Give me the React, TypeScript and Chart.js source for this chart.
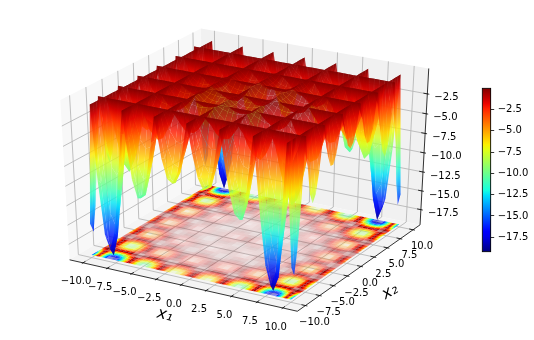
import { useEffect, useRef } from "react";
import { Chart, registerables } from "chart.js";

Chart.register(...registerables);

// one quadrant of the surface (it is mirror-symmetric in x1 and x2); the grid lines sit on the zero ridges
const x1Grid = [0, 0.5, 1, 1.5, 2, 2.5, 3.14, 3.5, 4, 4.5, 5, 5.5, 6, 6.28, 6.5, 7, 7.5, 8, 8.5, 9, 9.42, 10];
const x2Grid = [0, 0.5, 1, 1.57, 2, 2.5, 3, 3.5, 4, 4.71, 5, 5.5, 6, 6.5, 7, 7.5, 7.85, 8.5, 9, 9.5, 10];
const z00 = [0, -1.11, -1.66, -1.68, -1.31, -0.74, 0, -0.39, -0.99, -1.51, -1.74, -1.5, -0.69, 0, -0.63, -2.25, -3.76, -4.64, -4.39, -2.66, 0, -4.83];
const z05 = [0, -0.91, -1.41, -1.44, -1.13, -0.64, 0, -0.35, -0.88, -1.34, -1.53, -1.32, -0.61, 0, -0.55, -1.98, -3.32, -4.09, -3.87, -2.34, 0, -4.25];
const z10 = [0, -0.49, -0.79, -0.82, -0.65, -0.37, 0, -0.22, -0.56, -0.84, -0.97, -0.83, -0.39, 0, -0.35, -1.24, -2.08, -2.56, -2.41, -1.47, 0, -2.64];
const z15 = [0, 0, 0, 0, 0, 0, 0, 0, 0, 0, 0, 0, 0, 0, 0, 0, 0, 0, 0, 0, 0, 0];
const z20 = [0, -0.28, -0.47, -0.51, -0.42, -0.27, 0, -0.19, -0.48, -0.72, -0.82, -0.7, -0.32, 0, -0.29, -1.02, -1.69, -2.08, -1.98, -1.2, 0, -2.15];
const z25 = [0, -0.46, -0.78, -0.86, -0.79, -0.54, 0, -0.41, -0.99, -1.49, -1.67, -1.43, -0.65, 0, -0.58, -2.07, -3.42, -4.2, -3.95, -2.38, 0, -4.27];
const z30 = [0, -0.5, -0.89, -1.09, -1.04, -0.75, 0, -0.55, -1.36, -1.99, -2.24, -1.89, -0.86, 0, -0.77, -2.71, -4.48, -5.48, -5.12, -3.07, 0, -5.5];
const z35 = [0, -0.51, -0.93, -1.15, -1.12, -0.81, 0, -0.59, -1.42, -2.07, -2.31, -1.94, -0.88, 0, -0.78, -2.74, -4.5, -5.51, -5.12, -3.07, 0, -5.45];
const z40 = [0, -0.41, -0.75, -0.93, -0.9, -0.64, 0, -0.46, -1.1, -1.6, -1.78, -1.48, -0.67, 0, -0.59, -2.06, -3.37, -4.11, -3.81, -2.29, 0, -4.06];
const z45 = [0, 0, 0, 0, 0, 0, 0, 0, 0, 0, 0, 0, 0, 0, 0, 0, 0, 0, 0, 0, 0, 0];
const z50 = [0, -0.25, -0.45, -0.55, -0.53, -0.37, 0, -0.26, -0.61, -0.87, -0.95, -0.79, -0.35, 0, -0.31, -1.06, -1.72, -2.08, -1.93, -1.14, 0, -2];
const z55 = [0, -0.72, -1.3, -1.6, -1.53, -1.07, 0, -0.73, -1.72, -2.45, -2.67, -2.2, -0.97, 0, -0.84, -2.91, -4.72, -5.68, -5.21, -3.1, 0, -5.38];
const z60 = [0, -1.15, -2.07, -2.54, -2.42, -1.68, 0, -1.13, -2.66, -3.77, -4.1, -3.32, -1.47, 0, -1.28, -4.42, -7.07, -8.42, -7.74, -4.59, 0, -7.78];
const z65 = [0, -1.38, -2.47, -3.02, -2.84, -1.97, 0, -1.33, -3.09, -4.35, -4.69, -3.81, -1.69, 0, -1.44, -4.94, -7.97, -9.47, -8.66, -5.08, 0, -8.71];
const z70 = [0, -1.24, -2.22, -2.71, -2.57, -1.77, 0, -1.18, -2.74, -3.83, -4.09, -3.33, -1.47, 0, -1.25, -4.26, -6.82, -8.06, -7.34, -4.32, 0, -7.34];
const z75 = [0, -0.67, -1.2, -1.45, -1.36, -0.95, 0, -0.63, -1.45, -2.02, -2.16, -1.74, -0.76, 0, -0.65, -2.2, -3.49, -4.12, -3.77, -2.17, 0, -3.72];
const z80 = [0, 0, 0, 0, 0, 0, 0, 0, 0, 0, 0, 0, 0, 0, 0, 0, 0, 0, 0, 0, 0, 0];
const z85 = [0, -1.59, -2.83, -3.45, -3.25, -2.22, 0, -1.45, -3.33, -4.62, -4.9, -3.91, -1.7, 0, -1.43, -4.83, -7.68, -8.98, -8.11, -4.71, 0, -7.85];
const z90 = [0, -2.83, -5.06, -6.08, -5.8, -3.92, 0, -2.54, -5.87, -8.02, -8.52, -6.82, -2.95, 0, -2.47, -8.33, -13, -15.3, -13.8, -8, 0, -13.2];
const z95 = [0, -3.63, -6.45, -7.85, -7.43, -5.01, 0, -3.22, -7.4, -10.14, -10.7, -8.52, -3.7, 0, -3.06, -10.28, -16.2, -18.9, -17, -9.78, 0, -16.3];
const z100 = [0, -3.58, -6.35, -7.69, -7.25, -4.92, 0, -3.15, -7.24, -9.84, -10.47, -8.26, -3.49, 0, -2.95, -9.86, -15.5, -17.9, -16.1, -9.24, 0, -15.1];
const zRows = [z00, z05, z10, z15, z20, z25, z30, z35, z40, z45, z50, z55, z60, z65, z70, z75, z80, z85, z90, z95, z100];

const xTicks = [-10, -7.5, -5, -2.5, 0, 2.5, 5, 7.5, 10];
const yTicks = [-10, -7.5, -5, -2.5, 0, 2.5, 5, 7.5, 10];
const zTicks = [-17.5, -15, -12.5, -10, -7.5, -5, -2.5];
const colorbarTicks = [-17.5, -15, -12.5, -10, -7.5, -5, -2.5];
const zMinValue = -19.2;
const zMaxValue = 0;

const L = 11.4;
const Z0 = -19.55;
const Z1 = 0.65;
const FLOOR = -19.2;
const SURF_ALPHA = 0.82;
const FONT = '"DejaVu Sans"';

const project = (x: number, y: number, z: number) => {
  const nx = (x + L) / (2 * L) - 0.5;
  const ny = (y + L) / (2 * L) - 0.5;
  const nz = (z - Z0) / (Z1 - Z0) - 0.5;
  const xv = 0.8660254 * nx + 0.5 * ny;
  const yv = -0.25 * nx + 0.4330127 * ny + 0.8660254 * nz;
  const zv = 0.4330127 * nx - 0.75 * ny + 0.5 * nz;
  const f = 1 / (1 - zv / 10);
  return { x: xv * f, y: yv * f, depth: zv };
};

const clamp01 = (t: number) => Math.max(0, Math.min(1, t));
const ramp = (t: number, xs: number[], ys: number[]) => {
  for (let i = 1; i < xs.length; i++) {
    if (t <= xs[i]) return ys[i - 1] + ((ys[i] - ys[i - 1]) * (t - xs[i - 1])) / (xs[i] - xs[i - 1]);
  }
  return ys[ys.length - 1];
};
const jet = (z: number, a: number) => {
  const t = clamp01((z - zMinValue) / (zMaxValue - zMinValue));
  const r = ramp(t, [0, 0.35, 0.66, 0.89, 1], [0, 0, 1, 1, 0.5]);
  const g = ramp(t, [0, 0.125, 0.375, 0.64, 0.91, 1], [0, 0, 1, 1, 0, 0]);
  const b = ramp(t, [0, 0.11, 0.34, 0.65, 1], [0.5, 1, 1, 0, 0]);
  return `rgba(${Math.round(r * 255)},${Math.round(g * 255)},${Math.round(b * 255)},${a})`;
};

// full mesh, mirrored from the quadrant table
const n1 = x1Grid.length - 1;
const n2 = x2Grid.length - 1;
const axisFull = [...x1Grid.slice(1).reverse().map((v) => -v), ...x1Grid];
const axisFull2 = [...x2Grid.slice(1).reverse().map((v) => -v), ...x2Grid];
const zAt = (i: number, j: number) => zRows[Math.abs(j - n2)][Math.abs(i - n1)];

type Corner = { x: number; y: number; z: number };
const makeQuadFill = (corners: Corner[], alpha: number) => {
  let cache: any = null;
  return (c: any) => {
    if (cache) return cache;
    const chart = c.chart;
    const sx = chart.scales.x;
    const sy = chart.scales.y;
    const flat = jet(corners[0].z, alpha);
    if (!sx || !sy) return flat;
    const pts = corners.map((p) => ({ px: sx.getPixelForValue(p.x), py: sy.getPixelForValue(p.y), z: p.z }));
    if (pts.some((p) => !Number.isFinite(p.px) || !Number.isFinite(p.py))) return flat;
    const zs = pts.map((p) => p.z);
    const lo = Math.min(...zs);
    const hi = Math.max(...zs);
    const mx = pts.reduce((s, p) => s + p.px, 0) / 4;
    const my = pts.reduce((s, p) => s + p.py, 0) / 4;
    const mz = zs.reduce((s, v) => s + v, 0) / 4;
    let sxx = 0, syy = 0, sxy = 0, sxz = 0, syz = 0;
    pts.forEach((p) => {
      const dx = p.px - mx, dy = p.py - my, dz = p.z - mz;
      sxx += dx * dx; syy += dy * dy; sxy += dx * dy; sxz += dx * dz; syz += dy * dz;
    });
    const det = sxx * syy - sxy * sxy;
    if (hi - lo < 0.02 || Math.abs(det) < 1e-3) {
      cache = jet(mz, alpha);
      return cache;
    }
    const a = (sxz * syy - syz * sxy) / det;
    const b = (syz * sxx - sxz * sxy) / det;
    const g2 = a * a + b * b;
    if (g2 < 1e-9) {
      cache = jet(mz, alpha);
      return cache;
    }
    const x0 = mx + (a * (lo - mz)) / g2;
    const y0 = my + (b * (lo - mz)) / g2;
    const x1 = mx + (a * (hi - mz)) / g2;
    const y1 = my + (b * (hi - mz)) / g2;
    const grad = chart.ctx.createLinearGradient(x0, y0, x1, y1);
    const n = Math.max(1, Math.min(10, Math.ceil((hi - lo) / 1.5)));
    for (let k = 0; k <= n; k++) grad.addColorStop(k / n, jet(lo + ((hi - lo) * k) / n, alpha));
    cache = grad;
    return grad;
  };
};

const polygon = (pts: { x: number; y: number }[], fillColor: any) => ({
  type: "scatter",
  data: pts.map((p) => ({ x: p.x, y: p.y })),
  showLine: true,
  fill: "shape",
  backgroundColor: fillColor,
  pointBackgroundColor: "transparent",
  pointBorderColor: "transparent",
  borderWidth: 0,
  pointRadius: 0,
  pointHoverRadius: 0,
  clip: false,
});

const stroke = (pts: number[][], color: string, width: number) => ({
  type: "scatter",
  data: pts.map(([x, y, z]) => {
    const p = project(x, y, z);
    return { x: p.x, y: p.y };
  }),
  showLine: true,
  fill: false,
  borderColor: color,
  borderWidth: width,
  backgroundColor: "transparent",
  pointBackgroundColor: "transparent",
  pointBorderColor: "transparent",
  pointRadius: 0,
  pointHoverRadius: 0,
  tension: 0,
  clip: false,
});

const buildDatasets = () => {
  const out: any[] = [];
  const pane = (c: number[][], col: string) => out.push(polygon(c.map(([x, y, z]) => project(x, y, z)), col));
  pane([[-L, -L, Z0], [-L, L, Z0], [-L, L, Z1], [-L, -L, Z1]], "#f8f8f8");
  pane([[-L, L, Z0], [L, L, Z0], [L, L, Z1], [-L, L, Z1]], "#f1f1f1");
  pane([[-L, -L, Z0], [L, -L, Z0], [L, L, Z0], [-L, L, Z0]], "#f4f4f4");

  const gridCol = "#b0b0b0";
  xTicks.forEach((t) => out.push(stroke([[t, -L, Z0], [t, L, Z0], [t, L, Z1]], gridCol, 0.8)));
  yTicks.forEach((t) => out.push(stroke([[L, t, Z0], [-L, t, Z0], [-L, t, Z1]], gridCol, 0.8)));
  zTicks.forEach((t) => out.push(stroke([[L, L, t], [-L, L, t], [-L, -L, t]], gridCol, 0.8)));

  const ni = axisFull.length;
  const nj = axisFull2.length;
  // floor contour sheet: opacity follows the local slope, as dense contour lines do
  for (let j = 0; j < nj - 1; j++) {
    for (let i = 0; i < ni - 1; i++) {
      const zs = [zAt(i, j), zAt(i + 1, j), zAt(i + 1, j + 1), zAt(i, j + 1)];
      const dx = axisFull[i + 1] - axisFull[i];
      const dy = axisFull2[j + 1] - axisFull2[j];
      const gx = (Math.abs(zs[1] - zs[0]) + Math.abs(zs[2] - zs[3])) / 2 / dx;
      const gy = (Math.abs(zs[3] - zs[0]) + Math.abs(zs[2] - zs[1])) / 2 / dy;
      const g = Math.hypot(gx, gy);
      const alpha = Math.min(1, 0.04 + 0.1 * g);
      const corners = [[i, j], [i + 1, j], [i + 1, j + 1], [i, j + 1]].map(([a, b], k) => {
        const p = project(axisFull[a], axisFull2[b], FLOOR);
        return { x: p.x, y: p.y, z: zs[k] };
      });
      out.push(polygon(corners, makeQuadFill(corners, Number(alpha.toFixed(3)))));
    }
  }

  // surface, painter's order
  const quads: any[] = [];
  for (let j = 0; j < nj - 1; j++) {
    for (let i = 0; i < ni - 1; i++) {
      const idx = [[i, j], [i + 1, j], [i + 1, j + 1], [i, j + 1]];
      const corners = idx.map(([a, b]) => {
        const z = zAt(a, b);
        const p = project(axisFull[a], axisFull2[b], z);
        return { x: p.x, y: p.y, z, depth: p.depth };
      });
      quads.push({ corners, depth: corners.reduce((s, c) => s + c.depth, 0) / 4 });
    }
  }
  quads.sort((a, b) => a.depth - b.depth);
  quads.forEach((q) => out.push(polygon(q.corners, makeQuadFill(q.corners, SURF_ALPHA))));

  // axes lines and ticks
  const ink = "#000000";
  out.push(stroke([[-L, -L, Z0], [L, -L, Z0]], ink, 0.8));
  out.push(stroke([[L, -L, Z0], [L, L, Z0]], ink, 0.8));
  out.push(stroke([[L, L, Z0], [L, L, Z1]], ink, 0.8));
  const d = (2 * L) / 12;
  xTicks.forEach((t) => out.push(stroke([[t, -L - 0.1 * d, Z0], [t, -L + 0.2 * d, Z0]], ink, 0.8)));
  yTicks.forEach((t) => out.push(stroke([[L + 0.1 * d, t, Z0], [L - 0.2 * d, t, Z0]], ink, 0.8)));
  zTicks.forEach((t) => out.push(stroke([[L + 0.1 * d, L, t], [L - 0.2 * d, L, t]], ink, 0.8)));
  return out.reverse(); // Chart.js paints the first dataset last
};

const fmt = (v: number) => {
  const s = Number.isInteger(v) ? v.toFixed(1) : String(v);
  return s.replace("-", "\u2212");
};

const labelsPlugin = {
  id: "axisText",
  afterDraw(chart: any) {
    const { ctx, scales } = chart;
    const at = (x: number, y: number, z: number) => {
      const p = project(x, y, z);
      return [scales.x.getPixelForValue(p.x), scales.y.getPixelForValue(p.y)];
    };
    ctx.save();
    ctx.fillStyle = "#000";
    ctx.font = `10px ${FONT}`;
    ctx.textAlign = "center";
    ctx.textBaseline = "middle";
    xTicks.forEach((t) => {
      const [px, py] = at(t, -L, Z0);
      ctx.fillText(fmt(t), px - 7, py + 19);
    });
    yTicks.forEach((t) => {
      const [px, py] = at(L, t, Z0);
      ctx.fillText(fmt(t), px + 9, py + 17);
    });
    ctx.textAlign = "left";
    zTicks.forEach((t) => {
      const [px, py] = at(L, L, t);
      ctx.fillText(fmt(t), px + 7, py + 4);
    });
    const drawRot = (text: string, x: number, y: number, deg: number) => {
      ctx.save();
      ctx.translate(x, y);
      ctx.rotate((deg * Math.PI) / 180);
      ctx.textAlign = "center";
      ctx.font = `italic 16px ${FONT}`;
      ctx.fillText(text, 0, 0);
      ctx.restore();
    };
    drawRot("x\u2081", 165, 315, 13);
    drawRot("x\u2082", 390, 292, -30);
    ctx.restore();
  },
};

export default function App() {
  const mainRef = useRef<HTMLCanvasElement>(null);
  const barRef = useRef<HTMLCanvasElement>(null);
  useEffect(() => {
    const main = new Chart(mainRef.current as any, {
      type: "scatter",
      data: { datasets: buildDatasets() },
      options: {
        animation: false,
        responsive: false,
        events: [],
        layout: { padding: 0 },
        plugins: { legend: { display: false }, tooltip: { enabled: false } },
        scales: {
          x: { type: "linear", display: false, min: -247.5 / 263.3, max: (534 - 247.5) / 263.3 },
          y: { type: "linear", display: false, min: (165 - 340) / 182.8, max: 165 / 182.8 },
        },
      },
      plugins: [labelsPlugin],
    } as any);
    main.update();
    const bar = new Chart(barRef.current as any, {
      type: "bar",
      data: {
        labels: ["z"],
        datasets: [
          {
            data: [[zMinValue, zMaxValue]],
            barPercentage: 1,
            categoryPercentage: 1,
            borderWidth: 0,
            backgroundColor: (c: any) => {
              const s = c.chart.scales.y;
              const y0 = s ? s.getPixelForValue(zMinValue) : NaN;
              const y1 = s ? s.getPixelForValue(zMaxValue) : NaN;
              if (!Number.isFinite(y0) || !Number.isFinite(y1)) return "#800000";
              const grad = c.chart.ctx.createLinearGradient(0, y0, 0, y1);
              for (let k = 0; k <= 32; k++) grad.addColorStop(k / 32, jet(zMinValue + ((zMaxValue - zMinValue) * k) / 32, 1));
              return grad;
            },
          },
        ],
      },
      options: {
        animation: false,
        responsive: false,
        events: [],
        layout: { padding: { left: 482.3, top: 88.3, bottom: 88.3, right: 0 } },
        plugins: { legend: { display: false }, tooltip: { enabled: false } },
        scales: {
          x: { display: false },
          y: {
            position: "right",
            min: zMinValue,
            max: zMaxValue,
            afterFit: (s: any) => {
              s.width = 534 - 490.7;
            },
            afterBuildTicks: (s: any) => {
              s.ticks = colorbarTicks.map((value) => ({ value }));
            },
            ticks: {
              font: { family: "DejaVu Sans", size: 10 },
              color: "#000",
              padding: 3.5,
              callback: (v: any) => fmt(Number(v)),
            },
            grid: { drawOnChartArea: false, tickLength: 3.5, color: "#000", lineWidth: 0.8 },
            border: { display: true, color: "#000", width: 0.8 },
          },
        },
      },
      plugins: [
        {
          id: "outline",
          afterDraw(chart: any) {
            const { ctx, chartArea: a } = chart;
            ctx.save();
            ctx.strokeStyle = "#000";
            ctx.lineWidth = 0.8;
            ctx.strokeRect(a.left, a.top, a.right - a.left, a.bottom - a.top);
            ctx.restore();
          },
        },
      ],
    } as any);
    bar.update();
    return () => {
      main.destroy();
      bar.destroy();
    };
  }, []);
  const style: any = { position: "absolute", left: 0, top: 0, width: 534, height: 340, display: "block" };
  return (
    <div style={{ position: "absolute", left: 0, top: 0, width: 534, height: 340, background: "#fff" }}>
      <canvas ref={mainRef} width={534} height={340} style={style} />
      <canvas ref={barRef} width={534} height={340} style={style} />
    </div>
  );
}
